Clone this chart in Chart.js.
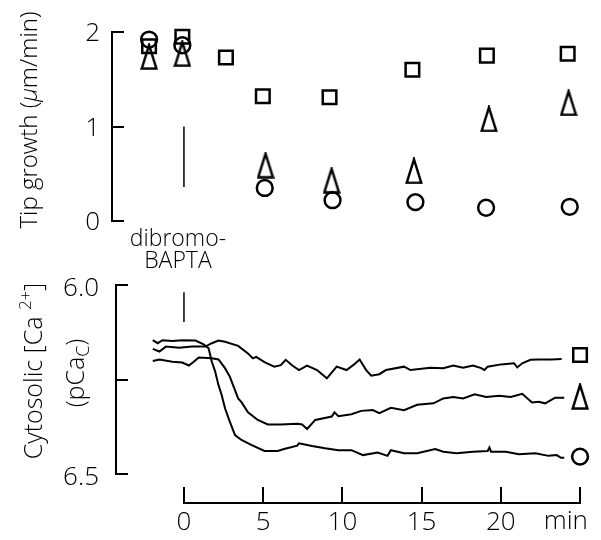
<!DOCTYPE html>
<html>
<head>
<meta charset="utf-8">
<script src="https://cdn.jsdelivr.net/npm/chart.js@4.4.1/dist/chart.umd.min.js"></script>
<style>
  html, body { margin: 0; padding: 0; background: #fff; }
  #wrap { position: relative; width: 601px; height: 540px; }
  #wrap canvas { position: absolute; left: 0; top: 0; }
</style>
</head>
<body>
<div id="wrap">
  <canvas id="growthChart" width="601" height="540"></canvas>
  <canvas id="calciumChart" width="601" height="540"></canvas>
</div>
<script>
const FONT = '"Open Sans", "Liberation Sans", Arial, sans-serif';
const WEIGHT = '300';

// --- top panel: tip growth (µm/min) ---
const growthSquareT = [-2.2, -0.1, 2.65, 4.98, 9.19, 14.42, 19.12, 24.22];
const growthSquare = [1.85, 1.95, 1.73, 1.32, 1.31, 1.60, 1.75, 1.77];
const growthTriangleT = [-2.2, -0.1, 5.15, 9.32, 14.52, 19.25, 24.28];
const growthTriangle = [1.74, 1.77, 0.59, 0.43, 0.53, 1.08, 1.25];
const growthCircleT = [-2.2, -0.1, 5.1, 9.38, 14.61, 19.07, 24.35];
const growthCircle = [1.92, 1.86, 0.35, 0.22, 0.20, 0.14, 0.15];
const growthTicks = [0, 1, 2];

// --- bottom panel: cytosolic pCa traces ---
const squareTraceT = [-1.97, -1.55, -1.14, -0.31, 0.52, 1.35, 1.76, 2.18, 2.59, 3.42, 4.04, 4.35, 4.56, 5.08, 5.70, 6.11, 6.42, 6.84, 7.26, 7.77, 8.40, 9.02, 9.64, 10.26, 10.68, 11.09, 11.50, 11.82, 12.33, 12.75, 13.89, 14.30, 15.55, 16.37, 17.00, 17.62, 18.24, 18.76, 18.97, 19.17, 20.01, 20.83, 21.04, 21.35, 21.87, 22.39, 23.22, 23.84];
const squareTrace = [6.169, 6.176, 6.163, 6.166, 6.163, 6.163, 6.154, 6.147, 6.150, 6.161, 6.181, 6.194, 6.190, 6.204, 6.216, 6.212, 6.198, 6.213, 6.225, 6.213, 6.225, 6.247, 6.216, 6.225, 6.212, 6.197, 6.225, 6.240, 6.236, 6.225, 6.216, 6.225, 6.219, 6.220, 6.213, 6.219, 6.213, 6.220, 6.225, 6.216, 6.210, 6.207, 6.218, 6.207, 6.198, 6.197, 6.197, 6.196];

const triangleTraceT = [-1.97, -1.55, -0.73, -0.11, 0.31, 0.62, 0.93, 1.76, 2.18, 2.59, 2.90, 3.22, 3.42, 3.63, 4.04, 4.66, 5.29, 6.11, 7.15, 7.46, 7.77, 8.29, 9.33, 9.50, 9.75, 10.57, 11.19, 11.92, 12.33, 13.06, 13.89, 14.72, 15.75, 16.37, 17.00, 17.62, 18.35, 19.07, 19.90, 20.63, 21.35, 21.97, 22.39, 22.80, 23.43, 24.00];
const triangleTrace = [6.201, 6.197, 6.203, 6.205, 6.213, 6.203, 6.192, 6.194, 6.197, 6.220, 6.243, 6.278, 6.300, 6.310, 6.337, 6.357, 6.369, 6.369, 6.367, 6.369, 6.381, 6.357, 6.348, 6.337, 6.347, 6.342, 6.333, 6.331, 6.339, 6.325, 6.331, 6.317, 6.313, 6.300, 6.296, 6.300, 6.289, 6.296, 6.293, 6.296, 6.288, 6.311, 6.309, 6.313, 6.298, 6.298];

const circleTraceT = [-1.97, -1.66, -1.35, -0.73, -0.11, 0.73, 1.24, 1.55, 1.76, 1.97, 2.18, 2.38, 2.59, 2.90, 3.22, 3.63, 4.25, 5.08, 5.91, 6.32, 7.15, 7.26, 8.08, 8.91, 9.75, 10.57, 11.30, 12.23, 12.85, 13.06, 13.89, 14.72, 15.86, 16.37, 17.21, 18.24, 19.17, 19.28, 19.38, 20.32, 21.14, 22.18, 23.01, 23.53, 23.80, 24.00];
const circleTrace = [6.146, 6.154, 6.146, 6.148, 6.146, 6.147, 6.157, 6.167, 6.203, 6.229, 6.265, 6.291, 6.326, 6.362, 6.397, 6.410, 6.423, 6.439, 6.439, 6.434, 6.425, 6.419, 6.426, 6.432, 6.437, 6.437, 6.450, 6.443, 6.452, 6.437, 6.445, 6.445, 6.434, 6.441, 6.445, 6.441, 6.439, 6.430, 6.441, 6.441, 6.448, 6.445, 6.452, 6.450, 6.457, 6.457];

// symbols placed at the end of each trace
const traceKeyT = 25;
const traceKeySquare = 6.185;
const traceKeyTriangle = 6.295;
const traceKeyCircle = 6.454;

const pcaTicks = [6.0, 6.25, 6.5];
const pcaTickLabels = ['6.0', '', '6.5'];
const timeTicks = [0, 5, 10, 15, 20];
const timeAxisEnd = 25;
const timeUnit = 'min';
const timeUnitAt = 24.1;

// application of dibromo-BAPTA at t = 0
const addT = 0;
const addMarkGrowth = [1.0, 0.36];
const addMarkPca = [6.019, 6.098];

const X_MIN_TOP = -4.54, X_MIN_BOTTOM = -4.29, X_MAX = 25.56;

const pts = (xs, ys) => xs.map((x, i) => ({ x, y: ys[i] }));

// tall open triangle used as a point style
const tallTriangle = (() => {
  const c = document.createElement('canvas');
  c.width = 18; c.height = 27;
  const g = c.getContext('2d');
  g.lineWidth = 2.5;
  g.strokeStyle = '#000';
  g.lineJoin = 'miter';
  g.beginPath();
  g.moveTo(9, 2);
  g.lineTo(16.3, 25.5);
  g.lineTo(1.7, 25.5);
  g.closePath();
  g.stroke();
  return c;
})();

const symbol = {
  square: { pointStyle: 'rect', pointRadius: 9.6, pointBorderWidth: 2.5 },
  circle: { pointStyle: 'circle', pointRadius: 7.9, pointBorderWidth: 2.5 },
  triangle: { pointStyle: tallTriangle, pointRadius: 8, pointBorderWidth: 2.5 }
};

function markerSet(data, sym) {
  return Object.assign({
    data, showLine: false, clip: false,
    pointBackgroundColor: 'rgba(0,0,0,0)', pointBorderColor: '#000',
    pointHoverRadius: 0
  }, symbol[sym]);
}

function traceSet(data, width) {
  return {
    data, showLine: true, clip: false, borderColor: '#000', borderWidth: width,
    pointRadius: 0, pointHoverRadius: 0, tension: 0
  };
}

function drawRotated(ctx, parts, baselineX, centerY) {
  ctx.save();
  ctx.translate(baselineX, centerY);
  ctx.rotate(-Math.PI / 2);
  ctx.fillStyle = '#000';
  ctx.textBaseline = 'alphabetic';
  ctx.textAlign = 'left';
  let total = 0;
  parts.forEach(p => {
    ctx.font = `${p.style || ''} ${WEIGHT} ${p.size}px ${FONT}`;
    p.w = ctx.measureText(p.text).width;
    total += p.w;
  });
  let x = -total / 2;
  parts.forEach(p => {
    ctx.font = `${p.style || ''} ${WEIGHT} ${p.size}px ${FONT}`;
    ctx.fillText(p.text, x, p.dy || 0);
    x += p.w;
  });
  ctx.restore();
}

// inward tick marks on the left axis, bracket style
const bracketTicks = {
  id: 'bracketTicks',
  afterDraw(chart) {
    const { ctx, chartArea } = chart;
    const y = chart.scales.y;
    ctx.save();
    ctx.strokeStyle = '#000';
    ctx.lineWidth = 2;
    y.ticks.forEach(t => {
      const py = Math.round(y.getPixelForValue(t.value));
      ctx.beginPath();
      ctx.moveTo(chartArea.left, py);
      ctx.lineTo(chartArea.left + 12, py);
      ctx.stroke();
    });
    ctx.restore();
  }
};

const growthLabels = {
  id: 'growthLabels',
  afterDraw(chart) {
    const { ctx } = chart;
    drawRotated(ctx, [
      { text: 'Tip growth (', size: 24 },
      { text: 'μ', size: 24, style: 'italic' },
      { text: 'm/min)', size: 24 }
    ], 37, 120);
    const x = chart.scales.x.getPixelForValue(addT) - 6;
    ctx.save();
    ctx.fillStyle = '#000';
    ctx.font = `${WEIGHT} 23px ${FONT}`;
    ctx.textAlign = 'center';
    ctx.textBaseline = 'alphabetic';
    ctx.fillText('dibromo-', x, 246);
    ctx.fillText('BAPTA', x, 268);
    ctx.restore();
  }
};

const calciumAxes = {
  id: 'calciumAxes',
  afterDraw(chart) {
    const { ctx, chartArea } = chart;
    const xs = chart.scales.x;
    const axisY = chartArea.bottom + 29;
    ctx.save();
    ctx.strokeStyle = '#000';
    ctx.lineWidth = 2;
    ctx.beginPath();
    ctx.moveTo(xs.getPixelForValue(0), axisY);
    ctx.lineTo(xs.getPixelForValue(timeAxisEnd), axisY);
    ctx.stroke();
    timeTicks.concat([timeAxisEnd]).forEach(v => {
      const px = Math.round(xs.getPixelForValue(v));
      ctx.beginPath();
      ctx.moveTo(px, axisY + 1);
      ctx.lineTo(px, axisY - 16);
      ctx.stroke();
    });
    ctx.fillStyle = '#000';
    ctx.font = `${WEIGHT} 26px ${FONT}`;
    ctx.textAlign = 'center';
    ctx.textBaseline = 'middle';
    ctx.fillText(timeUnit, xs.getPixelForValue(timeUnitAt), chartArea.bottom + 48);
    ctx.restore();

    drawRotated(ctx, [
      { text: 'Cytosolic [Ca ', size: 25 },
      { text: '2+', size: 17, dy: -11 },
      { text: ']', size: 25 }
    ], 42, 371);
    drawRotated(ctx, [
      { text: '(pCa', size: 25 },
      { text: 'C', size: 18, dy: 5 },
      { text: ')', size: 25 }
    ], 84, 373);
  }
};

const tickFont = { family: FONT, size: 26, weight: WEIGHT };

new Chart(document.getElementById('growthChart'), {
  type: 'scatter',
  data: {
    datasets: [
      traceSet([{ x: addT, y: addMarkGrowth[0] }, { x: addT, y: addMarkGrowth[1] }], 1.5),
      markerSet(pts(growthSquareT, growthSquare), 'square'),
      markerSet(pts(growthTriangleT, growthTriangle), 'triangle'),
      markerSet(pts(growthCircleT, growthCircle), 'circle')
    ]
  },
  options: {
    responsive: false,
    animation: false,
    events: [],
    layout: { padding: { left: 0, top: 32, right: 5, bottom: 319 } },
    plugins: { legend: { display: false }, tooltip: { enabled: false } },
    scales: {
      x: { type: 'linear', display: false, min: X_MIN_TOP, max: X_MAX },
      y: {
        min: 0, max: 2,
        afterFit: s => { s.width = 112; },
        afterBuildTicks: s => { s.ticks = growthTicks.map(v => ({ value: v })); },
        grid: { display: false, drawTicks: false },
        border: { display: true, color: '#000', width: 2 },
        ticks: { color: '#000', font: tickFont, padding: 12, labelOffset: 2, callback: v => String(v) }
      }
    }
  },
  plugins: [bracketTicks, growthLabels]
});

new Chart(document.getElementById('calciumChart'), {
  type: 'scatter',
  data: {
    datasets: [
      traceSet([{ x: addT, y: addMarkPca[0] }, { x: addT, y: addMarkPca[1] }], 1.5),
      traceSet(pts(squareTraceT, squareTrace), 2),
      traceSet(pts(triangleTraceT, triangleTrace), 2),
      traceSet(pts(circleTraceT, circleTrace), 2),
      markerSet([{ x: traceKeyT, y: traceKeySquare }], 'square'),
      markerSet([{ x: traceKeyT, y: traceKeyTriangle }], 'triangle'),
      markerSet([{ x: traceKeyT, y: traceKeyCircle }], 'circle')
    ]
  },
  options: {
    responsive: false,
    animation: false,
    events: [],
    layout: { padding: { left: 0, top: 285, right: 5, bottom: 0 } },
    plugins: { legend: { display: false }, tooltip: { enabled: false } },
    scales: {
      x: {
        type: 'linear', min: X_MIN_BOTTOM, max: X_MAX,
        afterFit: s => { s.height = 66; },
        afterBuildTicks: s => { s.ticks = timeTicks.map(v => ({ value: v })); },
        grid: { display: false, drawTicks: false },
        border: { display: false },
        ticks: { color: '#000', font: tickFont, padding: 33, maxRotation: 0, callback: v => String(v) }
      },
      y: {
        reverse: true, min: 6.0, max: 6.5,
        afterFit: s => { s.width = 116; },
        afterBuildTicks: s => { s.ticks = pcaTicks.map(v => ({ value: v })); },
        grid: { display: false, drawTicks: false },
        border: { display: true, color: '#000', width: 2 },
        ticks: {
          color: '#000', font: tickFont, padding: 17, labelOffset: 4,
          callback: v => pcaTickLabels[pcaTicks.indexOf(v)] ?? ''
        }
      }
    }
  },
  plugins: [bracketTicks, calciumAxes]
});
</script>
</body>
</html>
